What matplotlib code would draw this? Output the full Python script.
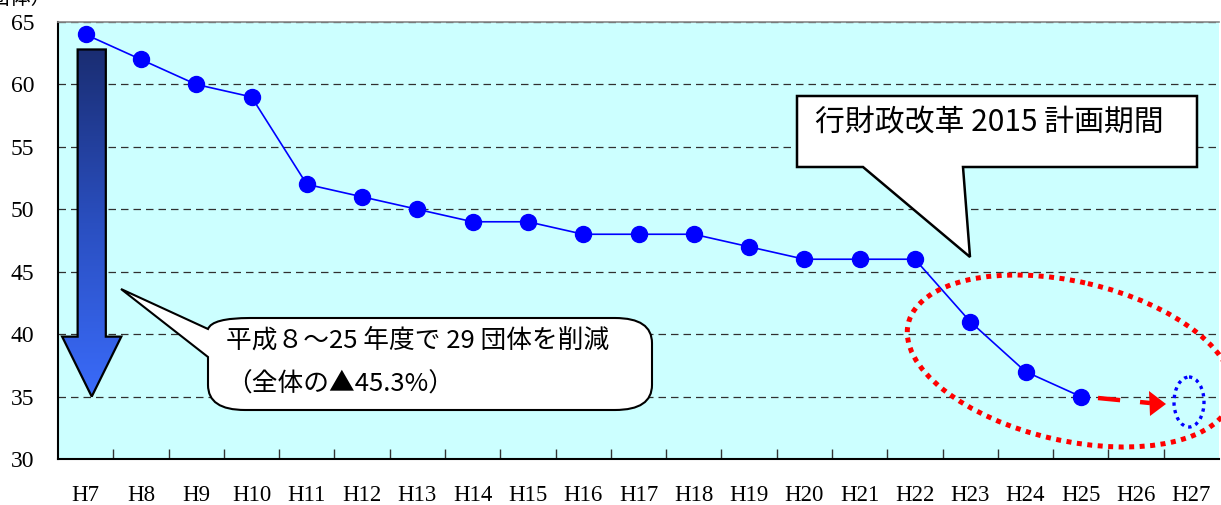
import numpy as np
import matplotlib
matplotlib.use("Agg")
import matplotlib.pyplot as plt
from matplotlib.patches import Polygon, Ellipse, PathPatch
from matplotlib.path import Path
from matplotlib.transforms import Affine2D
from matplotlib.colors import LinearSegmentedColormap

# ---- data ----
categories = ["H7", "H8", "H9", "H10", "H11", "H12", "H13", "H14", "H15", "H16",
              "H17", "H18", "H19", "H20", "H21", "H22", "H23", "H24", "H25", "H26", "H27"]
counts = [64, 62, 60, 59, 52, 51, 50, 49, 49, 48, 48, 48, 47, 46, 46, 46, 41, 37, 35]
y_ticks = [30, 35, 40, 45, 50, 55, 60, 65]
unit_label = "（団体）"
callout_left_lines = ["平成８～25 年度で 29 団体を削減", "（全体の▲45.3%）"]
callout_right_text = "行財政改革 2015 計画期間"

W, H = 1221, 505
fig = plt.figure(figsize=(W / 100, H / 100), dpi=100)
ax = fig.add_axes([58 / W, 1 - 459 / H, (1219 - 58) / W, (459 - 22) / H])
pix = Affine2D().scale(1 / W, -1 / H).translate(0, 1) + fig.transFigure

bg = "#ccffff"
ax.set_facecolor(bg)
x = np.arange(len(categories))
ax.set_xlim(-0.5, len(categories) - 0.5)
ax.set_ylim(y_ticks[0], y_ticks[-1])

serif = ["Liberation Serif", "DejaVu Serif"]
cjk = ["Noto Sans CJK JP", "DejaVu Sans"]

# grid
ax.set_yticks(y_ticks)
ax.set_yticklabels([str(v) for v in y_ticks], fontfamily=serif, fontsize=17)
ax.yaxis.grid(True, linestyle=(0, (6, 4)), color="#303030", lw=0.9)
ax.set_axisbelow(True)
ax.tick_params(axis="y", length=0, pad=17)

ax.set_xticks(x)
ax.set_xticklabels(categories, fontfamily=serif, fontsize=16.5)
ax.tick_params(axis="x", which="major", length=0, pad=19)
ax.set_xticks(np.arange(0.5, len(categories) - 1, 1), minor=True)
ax.tick_params(axis="x", which="minor", direction="in", length=7, width=1, color="#333333")

for s in ["left", "bottom"]:
    ax.spines[s].set_color("black")
    ax.spines[s].set_linewidth(1.5)
ax.spines["top"].set_color("#888888")
ax.spines["top"].set_linewidth(1.2)
ax.spines["right"].set_visible(False)

# data line
ax.plot(x[:len(counts)], counts, color="#0000ff", lw=1.2, marker="o",
        markersize=11.5, markerfacecolor="#0000ff", markeredgecolor="#0000ff", zorder=6)

# big gradient arrow (data coords)
ax_c = 0.11
body_hw, head_hw = 0.255, 0.535
y_top, y_base, y_tip = 62.8, 39.8, 35.0
arrow_pts = [(ax_c - body_hw, y_top), (ax_c + body_hw, y_top), (ax_c + body_hw, y_base),
             (ax_c + head_hw, y_base), (ax_c, y_tip), (ax_c - head_hw, y_base),
             (ax_c - body_hw, y_base)]
arrow_poly = Polygon(arrow_pts, closed=True, facecolor="none", edgecolor="black", lw=1.6, zorder=5)
ax.add_patch(arrow_poly)
cmap = LinearSegmentedColormap.from_list("g", ["#1a2d72", "#2a4fc0", "#3a6bfa"])
grad = np.linspace(0, 1, 256).reshape(-1, 1)
im = ax.imshow(grad, cmap=cmap, aspect="auto",
               extent=(ax_c - head_hw, ax_c + head_hw, y_tip, y_top), origin="upper", zorder=4)
clip_poly = Polygon(arrow_pts, closed=True, transform=ax.transData)
im.set_clip_path(clip_poly)
ax.set_xlim(-0.5, len(categories) - 0.5)
ax.set_ylim(y_ticks[0], y_ticks[-1])

# callout 1 (rounded bubble with tail), pixel coords
verts = [(121, 289), (208, 357), (208, 385), (208, 410), (245, 410), (615, 410),
         (652, 410), (652, 385), (652, 343), (652, 318), (615, 318), (250, 318),
         (212, 318), (208, 329), (121, 289)]
codes = [Path.MOVETO, Path.LINETO, Path.LINETO, Path.CURVE3, Path.CURVE3, Path.LINETO,
         Path.CURVE3, Path.CURVE3, Path.LINETO, Path.CURVE3, Path.CURVE3, Path.LINETO,
         Path.CURVE3, Path.CURVE3, Path.CLOSEPOLY]
fig.add_artist(PathPatch(Path(verts, codes), transform=pix, facecolor="white",
                         edgecolor="black", lw=1.5, zorder=7))
fig.text(226 / W, 1 - 341 / H, callout_left_lines[0], fontfamily=cjk, fontsize=18.5,
         ha="left", va="center", zorder=8)
fig.text(226 / W, 1 - 385 / H, callout_left_lines[1], fontfamily=cjk, fontsize=18.5,
         ha="left", va="center", zorder=8)

# callout 2 (rectangle with tail)
verts2 = [(797, 96), (1197, 96), (1197, 167), (963, 167), (970, 257), (863, 167),
          (797, 167), (797, 96)]
fig.add_artist(Polygon(verts2, closed=True, transform=pix, facecolor="white",
                       edgecolor="black", lw=1.8, zorder=7))
fig.text(989 / W, 1 - 123 / H, callout_right_text, fontfamily=cjk, fontsize=21.5,
         ha="center", va="center", zorder=8)

# red dotted ellipse
fig.add_artist(Ellipse((1070, 361), 332, 159, angle=13, transform=pix, fill=False,
                       edgecolor="#ff0000", lw=3.6, linestyle=(0, (1, 1.1)), zorder=7))
# blue dotted small ellipse
fig.add_artist(Ellipse((1189, 402), 30, 50, angle=0, transform=pix, fill=False,
                       edgecolor="#0000ff", lw=2.4, linestyle=(0, (1, 1.3)), zorder=7))
# red dashed arrow
fig.add_artist(plt.Line2D([1098, 1150], [398, 403], transform=pix, color="#ff0000",
                          lw=3.2, linestyle=(0, (5, 4.5)), solid_capstyle="butt", zorder=7))
fig.add_artist(Polygon([(1149, 391), (1166, 404), (1150, 416)], closed=True, transform=pix,
                       facecolor="#ff0000", edgecolor="none", zorder=7))

# unit label (clipped at the top edge)
fig.text(52 / W, 1 - 9 / H, unit_label, fontfamily=cjk, fontsize=15, ha="right", va="bottom")

fig.savefig("out.png", dpi=100)
